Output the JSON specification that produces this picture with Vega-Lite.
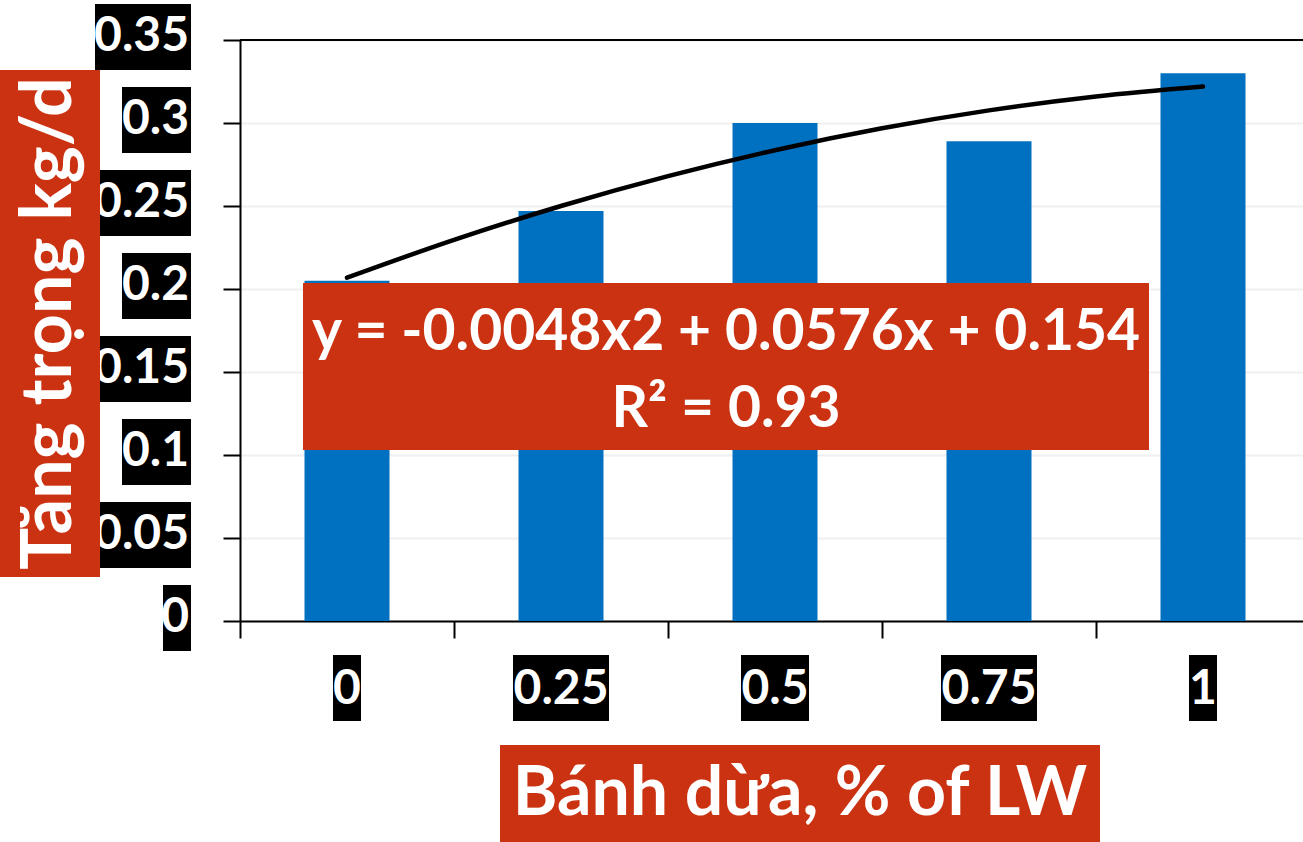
{
  "$schema": "https://vega.github.io/schema/vega-lite/v6.json",
  "width": 1063,
  "height": 581,
  "autosize": {"type": "none"},
  "padding": {"left": 240, "top": 40, "right": 0, "bottom": 221},
  "background": "white",
  "config": {"view": {"stroke": null}, "font": "Lato"},
  "datasets": {
    "bars": [
      {"x": 0, "gain": 0.205},
      {"x": 0.25, "gain": 0.247},
      {"x": 0.5, "gain": 0.300},
      {"x": 0.75, "gain": 0.289},
      {"x": 1, "gain": 0.330}
    ],
    "trend": [
      {"x": 0, "fit": 0.2068},
      {"x": 0.125, "fit": 0.2296},
      {"x": 0.25, "fit": 0.2500},
      {"x": 0.375, "fit": 0.2680},
      {"x": 0.5, "fit": 0.2836},
      {"x": 0.625, "fit": 0.2968},
      {"x": 0.75, "fit": 0.3076},
      {"x": 0.875, "fit": 0.3160},
      {"x": 1, "fit": 0.3220}
    ],
    "yticks": [
      {"v": 0}, {"v": 0.05}, {"v": 0.1}, {"v": 0.15},
      {"v": 0.2}, {"v": 0.25}, {"v": 0.3}, {"v": 0.35}
    ],
    "one": [{}]
  },
  "layer": [
    {
      "data": {"name": "bars"},
      "mark": {"type": "bar", "orient": "vertical", "width": 85, "color": "#0070c0"},
      "encoding": {
        "x": {
          "field": "x", "type": "quantitative",
          "scale": {"domain": [-0.125, 1.11682], "nice": false, "zero": false, "padding": 0},
          "axis": {
            "values": [-0.125, 0.125, 0.375, 0.625, 0.875],
            "labels": false, "title": null, "grid": false,
            "tickSize": 17, "tickWidth": 2, "tickColor": "black",
            "domainColor": "black", "domainWidth": 2
          }
        },
        "y": {
          "field": "gain", "type": "quantitative",
          "scale": {"domain": [0, 0.35], "nice": false, "padding": 0},
          "axis": {
            "values": [0, 0.05, 0.1, 0.15, 0.2, 0.25, 0.3, 0.35],
            "labels": false, "title": null, "grid": true,
            "gridColor": "#f0f0f0", "gridWidth": 2,
            "tickSize": 17, "tickWidth": 2, "tickColor": "black",
            "domainColor": "black", "domainWidth": 2
          }
        }
      }
    },
    {
      "data": {"name": "one"},
      "mark": {"type": "rule", "color": "black", "strokeWidth": 2},
      "encoding": {"y": {"datum": 0.35}}
    },
    {
      "data": {"name": "trend"},
      "mark": {"type": "line", "color": "black", "strokeWidth": 4.5, "interpolate": "monotone", "strokeCap": "round"},
      "encoding": {
        "x": {"field": "x", "type": "quantitative"},
        "y": {"field": "fit", "type": "quantitative"}
      }
    },
    {
      "data": {"name": "one"},
      "mark": {"type": "rect", "color": "#cb3212"},
      "encoding": {
        "x": {"datum": -0.0514}, "x2": {"datum": 0.93692},
        "y": {"datum": 0.20361}, "y2": {"datum": 0.10301}
      }
    },
    {
      "data": {"name": "one"},
      "mark": {"type": "text", "text": "y = -0.0048x2 + 0.0576x + 0.154", "fontWeight": "bold", "fontSize": 57, "color": "white", "align": "center", "baseline": "middle"},
      "encoding": {"x": {"datum": 0.44276}, "y": {"datum": 0.17349}}
    },
    {
      "data": {"name": "one"},
      "mark": {"type": "text", "text": "R² = 0.93", "fontWeight": "bold", "fontSize": 57, "color": "white", "align": "center", "baseline": "middle"},
      "encoding": {"x": {"datum": 0.44276}, "y": {"datum": 0.12711}}
    },
    {
      "data": {"name": "yticks"},
      "transform": [{"filter": {"field": "v", "oneOf": [0.05, 0.15, 0.25, 0.35]}}],
      "mark": {"type": "tick", "orient": "vertical", "thickness": 96, "size": 66, "color": "black", "opacity": 1, "yOffset": -3},
      "encoding": {"x": {"datum": -0.23832}, "y": {"field": "v", "type": "quantitative"}}
    },
    {
      "data": {"name": "yticks"},
      "transform": [{"filter": {"field": "v", "oneOf": [0.1, 0.2, 0.3]}}],
      "mark": {"type": "tick", "orient": "vertical", "thickness": 69, "size": 66, "color": "black", "opacity": 1, "yOffset": -3},
      "encoding": {"x": {"datum": -0.22255}, "y": {"field": "v", "type": "quantitative"}}
    },
    {
      "data": {"name": "yticks"},
      "transform": [{"filter": {"field": "v", "oneOf": [0]}}],
      "mark": {"type": "tick", "orient": "vertical", "thickness": 28, "size": 66, "color": "black", "opacity": 1, "yOffset": -3},
      "encoding": {"x": {"datum": -0.1986}, "y": {"field": "v", "type": "quantitative"}}
    },
    {
      "data": {"name": "yticks"},
      "mark": {"type": "text", "fontWeight": "bold", "fontSize": 48, "color": "white", "align": "right", "baseline": "middle", "dy": -3},
      "encoding": {
        "x": {"datum": -0.18458},
        "y": {"field": "v", "type": "quantitative"},
        "text": {"field": "v", "type": "quantitative", "format": "~g"}
      }
    },
    {
      "data": {"name": "bars"},
      "transform": [{"filter": {"field": "x", "oneOf": [0, 1]}}],
      "mark": {"type": "tick", "orient": "vertical", "thickness": 28, "size": 66, "color": "black", "opacity": 1},
      "encoding": {"x": {"field": "x", "type": "quantitative"}, "y": {"datum": -0.04036}}
    },
    {
      "data": {"name": "bars"},
      "transform": [{"filter": {"field": "x", "oneOf": [0.25, 0.75]}}],
      "mark": {"type": "tick", "orient": "vertical", "thickness": 96, "size": 66, "color": "black", "opacity": 1},
      "encoding": {"x": {"field": "x", "type": "quantitative"}, "y": {"datum": -0.04036}}
    },
    {
      "data": {"name": "bars"},
      "transform": [{"filter": {"field": "x", "oneOf": [0.5]}}],
      "mark": {"type": "tick", "orient": "vertical", "thickness": 68, "size": 66, "color": "black", "opacity": 1},
      "encoding": {"x": {"field": "x", "type": "quantitative"}, "y": {"datum": -0.04036}}
    },
    {
      "data": {"name": "bars"},
      "mark": {"type": "text", "fontWeight": "bold", "fontSize": 48, "color": "white", "align": "center", "baseline": "middle"},
      "encoding": {
        "x": {"field": "x", "type": "quantitative"},
        "y": {"datum": -0.04127},
        "text": {"field": "x", "type": "quantitative", "format": "~g"}
      }
    },
    {
      "data": {"name": "one"},
      "mark": {"type": "rect", "color": "#cb3212"},
      "encoding": {
        "x": {"datum": -0.40537}, "x2": {"datum": -0.28855},
        "y": {"datum": 0.33193}, "y2": {"datum": 0.02651}
      }
    },
    {
      "data": {"name": "one"},
      "mark": {"type": "text", "text": "Tăng trọng kg/d", "fontWeight": "bold", "fontSize": 70, "color": "white", "align": "center", "baseline": "middle", "angle": 270},
      "encoding": {"x": {"datum": -0.34696}, "y": {"datum": 0.17922}}
    },
    {
      "data": {"name": "one"},
      "mark": {"type": "rect", "color": "#cb3212"},
      "encoding": {
        "x": {"datum": 0.17874}, "x2": {"datum": 0.87967},
        "y": {"datum": -0.0747}, "y2": {"datum": -0.14}
      }
    },
    {
      "data": {"name": "one"},
      "mark": {"type": "text", "text": "Bánh dừa, % of LW", "fontWeight": "bold", "fontSize": 68, "color": "white", "align": "center", "baseline": "middle"},
      "encoding": {"x": {"datum": 0.52921}, "y": {"datum": -0.10482}}
    }
  ]
}
